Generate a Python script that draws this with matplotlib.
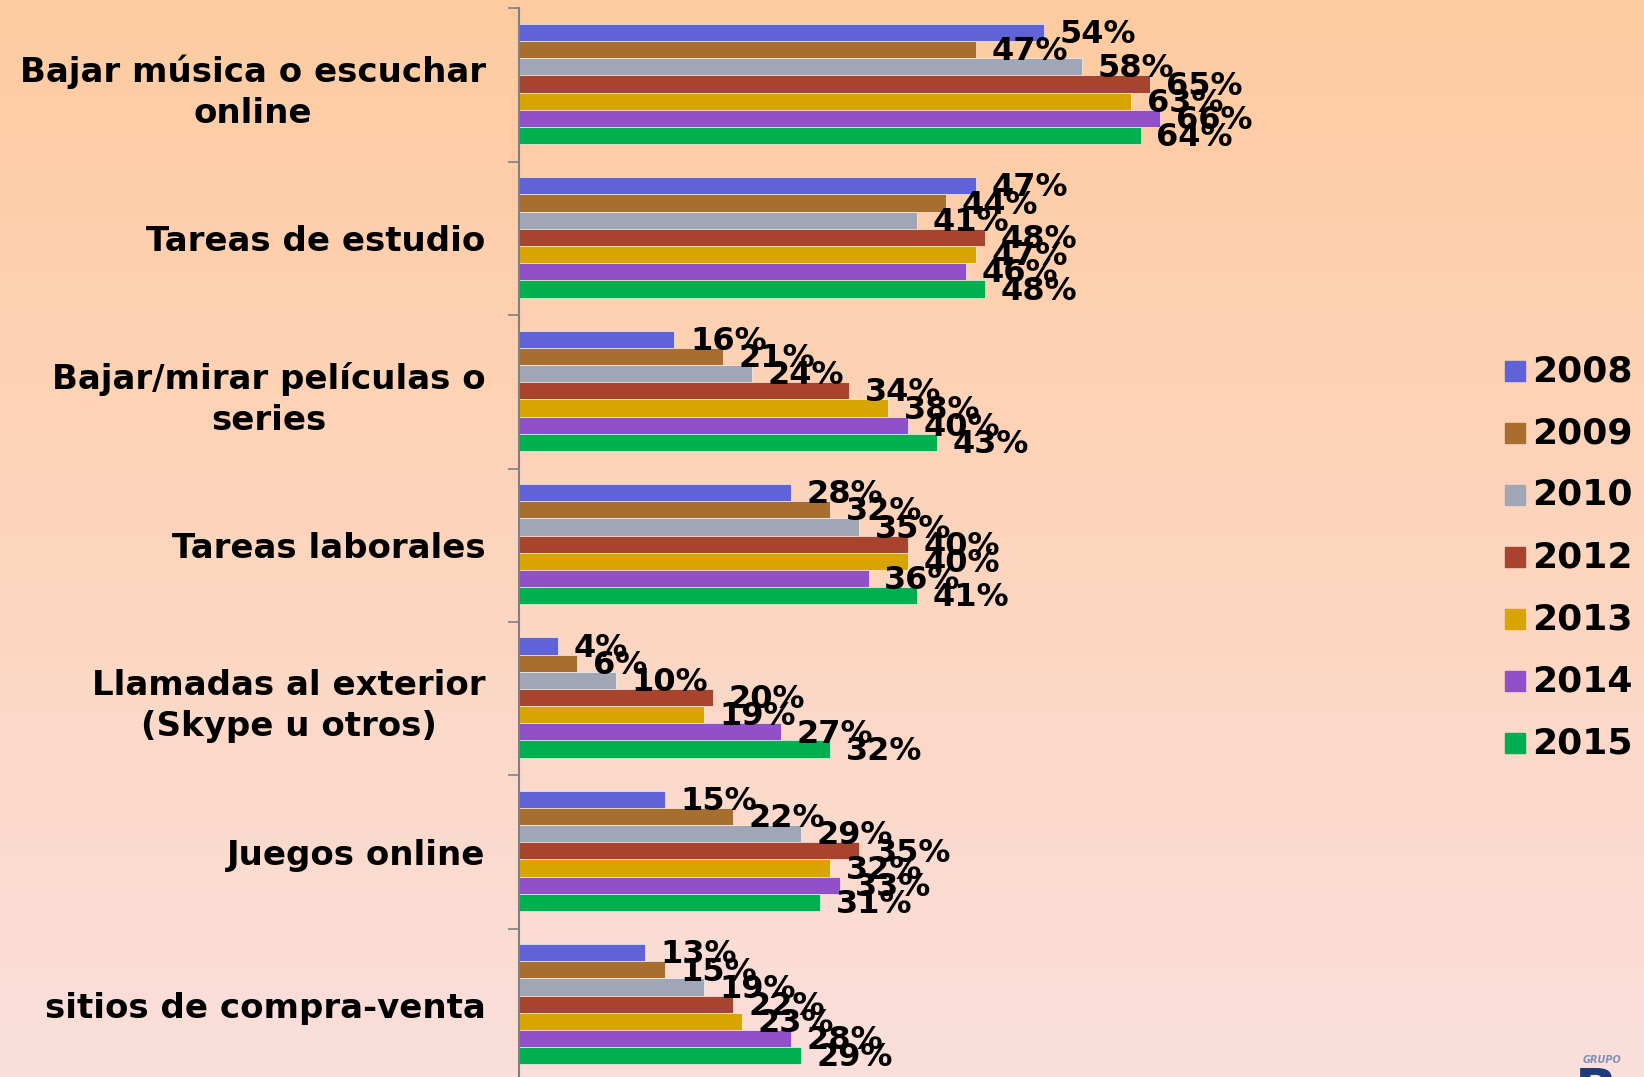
import numpy as np
import matplotlib.pyplot as plt

categories = [
    "Bajar música o escuchar\nonline",
    "Tareas de estudio",
    "Bajar/mirar películas o\nseries",
    "Tareas laborales",
    "Llamadas al exterior\n(Skype u otros)",
    "Juegos online",
    "sitios de compra-venta",
]
years = ["2008", "2009", "2010", "2012", "2013", "2014", "2015"]

v2008 = [54, 47, 16, 28, 4, 15, 13]
v2009 = [47, 44, 21, 32, 6, 22, 15]
v2010 = [58, 41, 24, 35, 10, 29, 19]
v2012 = [65, 48, 34, 40, 20, 35, 22]
v2013 = [63, 47, 38, 40, 19, 32, 23]
v2014 = [66, 46, 40, 36, 27, 33, 28]
v2015 = [64, 48, 43, 41, 32, 31, 29]
series = [v2008, v2009, v2010, v2012, v2013, v2014, v2015]

colors = ["#6062d8", "#a86e2e", "#a1a6b7", "#a8432e", "#d8a400", "#9250c8", "#00b050"]

W, H = 1644, 1077
fig = plt.figure(figsize=(W / 100, H / 100), dpi=100)

# background gradient (peach at top to pale pink at bottom)
bg = fig.add_axes([0, 0, 1, 1], zorder=-10)
top = np.array([255, 203, 160]) / 255
bot = np.array([250, 223, 219]) / 255
t = np.linspace(0, 1, 256)[:, None]
grad = (top[None, :] * (1 - t) + bot[None, :] * t)[:, None, :]
bg.imshow(grad, aspect="auto", extent=[0, 1, 0, 1])
bg.axis("off")

ax = fig.add_axes([519 / W, -5 / H, 680 / W, (1077 - 8.4 + 5) / H])
ax.patch.set_alpha(0)

n = len(categories)
y = np.arange(n)
h = 0.112
for j, (vals, c) in enumerate(zip(series, colors)):
    pos = y - 3 * h + j * h - 0.007
    ax.barh(pos, vals, height=h, color=c, edgecolor="white", linewidth=0.4, label=years[j])
    for p, v in zip(pos, vals):
        ax.text(v + 1.6, p + 0.014, f"{v}%", va="center", ha="left",
                fontsize=23, fontweight="bold", color="black")

ax.set_xlim(0, 70)
ax.set_ylim(n - 0.5, -0.5)
ax.set_yticks(y)
ax.set_yticklabels(categories, fontsize=24.5, fontweight="bold", multialignment="center",
                   linespacing=1.3)
ax.set_yticks(np.arange(n + 1) - 0.5, minor=True)
ax.tick_params(axis="y", which="major", length=0, pad=24)
ax.tick_params(axis="y", which="minor", length=8, color="#808080", width=1.2)
ax.xaxis.set_visible(False)
for s in ["top", "right", "bottom"]:
    ax.spines[s].set_visible(False)
ax.spines["left"].set_color("#808080")
ax.spines["left"].set_linewidth(1.5)

# legend drawn as squares + labels
for j, (yr, c) in enumerate(zip(years, colors)):
    yy = 1 - (371 + j * 62) / H
    fig.patches.append(plt.Rectangle((1505 / W, yy - 10 / H), 20 / W, 20 / H,
                                     transform=fig.transFigure, color=c))
    fig.text(1532 / W, yy, yr, fontsize=26, fontweight="bold", va="center", ha="left")

# partially visible logo in the corner
fig.text(1602 / W, 1 - 1060 / H, "GRUPO", fontsize=7, style="italic",
         fontweight="bold", color="#8090b8", ha="center", va="center")
fig.text(1575 / W, 1 - 1066 / H, "B", fontsize=40, fontweight="bold",
         color="#1f3a78", ha="left", va="top")

fig.savefig("out.png", dpi=100)
